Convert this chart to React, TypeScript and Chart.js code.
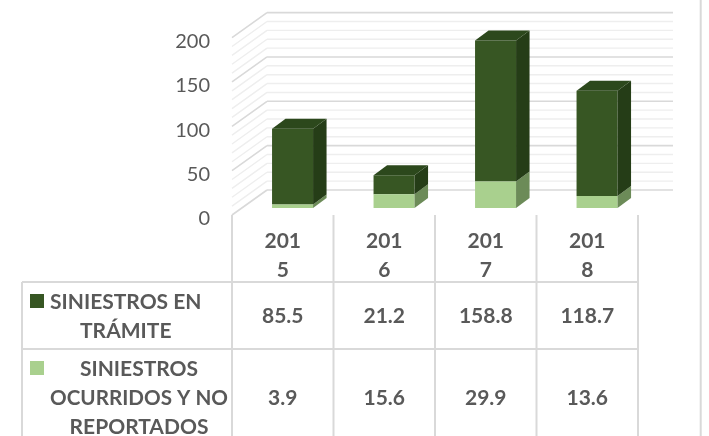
import React, { useEffect, useRef } from "react";
import { Chart, registerables } from "chart.js";

Chart.register(...registerables);

// ---- data ----
const categories = ["2015", "2016", "2017", "2018"];
const enTramite = [85.5, 21.2, 158.8, 118.7];
const ocurridosNoReportados = [3.9, 15.6, 29.9, 13.6];
const seriesNames = ["SINIESTROS EN TRÁMITE", "SINIESTROS OCURRIDOS Y NO REPORTADOS"];
const yTickValues = [0, 50, 100, 150, 200];

// ---- styles ----
const DARK = "#375623";
const DARK_SIDE = "#253D17";
const DARK_TOP = "#2C481C";
const LIGHT = "#A9D08E";
const LIGHT_SIDE = "#6C8B58";
const LIGHT_TOP = "#8DB075";
const TEXT = "#595959";
const GRID_MAJOR = "#d9d9d9";
const GRID_MINOR = "#eeeeee";
const FONT = "Lato";

// 3D geometry relative to the bar (front-face) plane
const FRONT = { dx: -9.8, dy: 7 };
const BACK = { dx: 25.2, dy: -18 };
const BAR_DEPTH = { dx: 13.5, dy: -10 };

function wrapText(ctx: CanvasRenderingContext2D, text: string, maxWidth: number): string[] {
  const words = text.split(" ");
  const lines: string[] = [];
  let cur = "";
  const splitWord = (w: string) => {
    if (ctx.measureText(w).width <= maxWidth) return [w];
    const parts: string[] = [];
    let p = "";
    for (const ch of w) {
      if (p && ctx.measureText(p + ch).width > maxWidth) {
        parts.push(p);
        p = ch;
      } else p += ch;
    }
    if (p) parts.push(p);
    return parts;
  };
  for (const w of words) {
    const test = cur ? cur + " " + w : w;
    if (ctx.measureText(test).width <= maxWidth) {
      cur = test;
    } else {
      if (cur) lines.push(cur);
      const parts = splitWord(w);
      for (let i = 0; i < parts.length - 1; i++) lines.push(parts[i]);
      cur = parts[parts.length - 1];
    }
  }
  if (cur) lines.push(cur);
  return lines;
}

function poly(ctx: CanvasRenderingContext2D, pts: number[][], fill: string) {
  ctx.beginPath();
  ctx.moveTo(pts[0][0], pts[0][1]);
  for (let i = 1; i < pts.length; i++) ctx.lineTo(pts[i][0], pts[i][1]);
  ctx.closePath();
  ctx.fillStyle = fill;
  ctx.fill();
}

const threeDPlugin = {
  id: "threeD",
  beforeDatasetsDraw(chart: any) {
    const ctx: CanvasRenderingContext2D = chart.ctx;
    const ys = chart.scales.y;
    const { left, right } = chart.chartArea;
    ctx.save();
    for (const major of [false, true]) {
      for (let v = 0; v <= 200; v += 10) {
        const isMajor = v % 50 === 0;
        if (isMajor !== major) continue;
        const p = ys.getPixelForValue(v);
        ctx.strokeStyle = isMajor ? GRID_MAJOR : GRID_MINOR;
        ctx.lineWidth = isMajor ? 1.6 : 1.4;
        ctx.beginPath();
        ctx.moveTo(left + BACK.dx, p + BACK.dy);
        ctx.lineTo(right + BACK.dx, p + BACK.dy);
        ctx.moveTo(left + FRONT.dx, p + FRONT.dy);
        ctx.lineTo(left + BACK.dx, p + BACK.dy);
        ctx.stroke();
      }
    }
    ctx.restore();
  },
  afterDatasetsDraw(chart: any) {
    const ctx: CanvasRenderingContext2D = chart.ctx;
    const n = chart.data.datasets.length;
    ctx.save();
    for (let d = 0; d < n; d++) {
      const meta = chart.getDatasetMeta(d);
      const sideColor = chart.data.datasets[d].sideColor;
      const topColor = chart.data.datasets[d].topColor;
      meta.data.forEach((el: any) => {
        const { x, y, base, width } = el.getProps(["x", "y", "base", "width"], true);
        const l = x - width / 2;
        const r = x + width / 2;
        const { dx, dy } = BAR_DEPTH;
        poly(ctx, [[r, y], [r + dx, y + dy], [r + dx, base + dy], [r, base]], sideColor);
        if (d === n - 1) {
          poly(ctx, [[l, y], [l + dx, y + dy], [r + dx, y + dy], [r, y]], topColor);
        }
      });
    }
    ctx.restore();
  },
  afterDraw(chart: any) {
    const ctx: CanvasRenderingContext2D = chart.ctx;
    const xs = chart.scales.x;
    const ys = chart.scales.y;
    const catW = xs.getPixelForValue(1) - xs.getPixelForValue(0);
    const edges: number[] = categories.map((_, i) => xs.getPixelForValue(i) - catW / 2 + FRONT.dx);
    edges.push(edges[edges.length - 1] + catW);
    const centers = categories.map((_, i) => xs.getPixelForValue(i) + FRONT.dx);
    const headerTop = ys.getPixelForValue(0) + FRONT.dy;
    const LINE_H = 29;
    const ROW_PAD = 9;
    const tableLeft = 22;
    const keyX = 30;
    const keySize = 14;
    const textLeft = 50;
    const bold = `bold 21px ${FONT}`;
    const capH = 21 * 0.7165;

    ctx.save();
    ctx.font = bold;
    ctx.fillStyle = TEXT;
    ctx.textAlign = "center";
    ctx.textBaseline = "alphabetic";

    // header
    const headerLines = categories.map((c) => wrapText(ctx, c, 42));
    const headerN = Math.max(...headerLines.map((l) => l.length));
    const headerH = headerN * LINE_H + ROW_PAD;
    const headerBottom = headerTop + headerH;
    headerLines.forEach((lines, i) => {
      const cy = headerTop + headerH / 2 + 6 - ((lines.length - 1) * LINE_H) / 2;
      lines.forEach((ln, k) => ctx.fillText(ln, centers[i], cy + k * LINE_H + capH / 2));
    });

    // rows: dark series first, then light
    const rows = [
      { name: seriesNames[0], values: enTramite, color: DARK },
      { name: seriesNames[1], values: ocurridosNoReportados, color: LIGHT },
    ];
    const avail = edges[0] - textLeft - 4;
    let top = headerBottom;
    const rowBounds: number[] = [top];
    rows.forEach((row) => {
      ctx.font = bold;
      const lines = wrapText(ctx, row.name, avail + 16);
      const h = lines.length * LINE_H + ROW_PAD;
      const cy = top + h / 2;
      const firstY = cy - ((lines.length - 1) * LINE_H) / 2;
      // key
      ctx.fillStyle = row.color;
      ctx.fillRect(keyX, firstY - keySize / 2, keySize, keySize);
      // label
      ctx.fillStyle = TEXT;
      const blockW = Math.min(avail, Math.max(...lines.map((l) => ctx.measureText(l).width)));
      const bc = textLeft + blockW / 2;
      lines.forEach((ln, k) => ctx.fillText(ln, bc, firstY + k * LINE_H + capH / 2, avail));
      // values
      row.values.forEach((v, i) => ctx.fillText(v.toFixed(1), centers[i], cy + capH / 2));
      top += h;
      rowBounds.push(top);
    });

    // grid lines
    ctx.strokeStyle = GRID_MAJOR;
    ctx.lineWidth = 2;
    ctx.beginPath();
    edges.forEach((ex) => {
      ctx.moveTo(ex, headerTop);
      ctx.lineTo(ex, chart.height + 20);
    });
    ctx.moveTo(tableLeft, rowBounds[0]);
    ctx.lineTo(tableLeft, chart.height + 20);
    rowBounds.forEach((ry) => {
      ctx.moveTo(tableLeft, ry);
      ctx.lineTo(edges[edges.length - 1], ry);
    });
    // chart frame right edge
    ctx.moveTo(700.7, 0);
    ctx.lineTo(700.7, chart.height);
    ctx.stroke();
    ctx.restore();
  },
};

export default function App() {
  const ref = useRef<HTMLCanvasElement | null>(null);
  useEffect(() => {
    if (!ref.current) return;
    const chart = new Chart(ref.current, {
      type: "bar",
      data: {
        labels: categories,
        datasets: [
          {
            label: seriesNames[1],
            data: ocurridosNoReportados,
            backgroundColor: LIGHT,
            borderWidth: 0,
            sideColor: LIGHT_SIDE,
            topColor: LIGHT_TOP,
          } as any,
          {
            label: seriesNames[0],
            data: enTramite,
            backgroundColor: DARK,
            borderWidth: 0,
            sideColor: DARK_SIDE,
            topColor: DARK_TOP,
          } as any,
        ],
      },
      options: {
        animation: false,
        responsive: false,
        events: [],
        layout: { padding: { left: 0, top: 30.6, right: 61.2, bottom: 228 } },
        plugins: { legend: { display: false }, tooltip: { enabled: false } },
        datasets: { bar: { categoryPercentage: 1, barPercentage: 0.404 } },
        scales: {
          x: { stacked: true, display: false },
          y: {
            stacked: true,
            min: 0,
            max: 200,
            afterFit: (s: any) => {
              s.width = 241.8;
              s.paddingTop = 0;
              s.paddingBottom = 0;
            },
            afterBuildTicks: (s: any) => {
              s.ticks = yTickValues.map((v) => ({ value: v }));
            },
            grid: { display: false, drawTicks: false },
            border: { display: false },
            ticks: {
              padding: 31.8,
              labelOffset: 11,
              color: TEXT,
              font: { family: FONT, size: 20 },
            },
          },
        },
      },
      plugins: [threeDPlugin],
    });
    return () => chart.destroy();
  }, []);
  return (
    <div style={{ position: "fixed", left: 0, top: 0, width: 709, height: 436, background: "#fff" }}>
      <canvas ref={ref} width={709} height={436} />
    </div>
  );
}
